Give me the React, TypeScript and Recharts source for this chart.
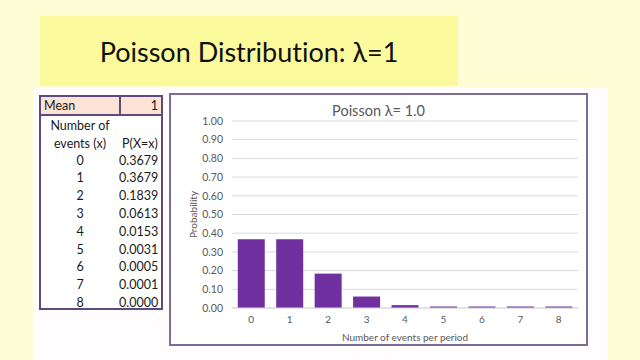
import { BarChart, Bar, CartesianGrid, XAxis, YAxis } from "recharts";

const events = ["0", "1", "2", "3", "4", "5", "6", "7", "8"];
const probabilities = [0.3679, 0.3679, 0.1839, 0.0613, 0.0153, 0.0031, 0.0005, 0.0001, 0.0];
const probabilityLabels = ["0.3679", "0.3679", "0.1839", "0.0613", "0.0153", "0.0031", "0.0005", "0.0001", "0.0000"];
const yTicks = [0, 0.1, 0.2, 0.3, 0.4, 0.5, 0.6, 0.7, 0.8, 0.9, 1.0];
const meanValue = "1";

const chartData = events.map((name, i) => ({ name, p: probabilities[i] }));

const FONT = "Lato, 'Open Sans', sans-serif";
const GRAY = "#595959";

function PoissonTable() {
  const rowH = 17.8;
  const cell = (top: number, text: string, left: number, width: number, align: "center" | "right") => (
    <div
      key={`${top}-${left}-${text}`}
      style={{
        position: "absolute",
        top,
        left,
        width,
        height: rowH,
        lineHeight: `${rowH}px`,
        textAlign: align,
        paddingRight: align === "right" ? 3 : 0,
        boxSizing: "border-box",
      }}
    >
      {text}
    </div>
  );
  return (
    <div
      style={{
        position: "absolute",
        left: 39,
        top: 95,
        width: 124,
        height: 215,
        border: "2px solid #5f4a7e",
        boxSizing: "border-box",
        fontFamily: FONT,
        fontSize: 12.5,
        color: "#1a1a1a",
        background: "#ffffff",
      }}
    >
      <div
        style={{
          position: "absolute",
          left: 0,
          top: 0,
          width: 120,
          height: 17,
          background: "#fbe3d6",
          borderBottom: "2px solid #5f4a7e",
        }}
      >
        <div style={{ position: "absolute", left: 3, top: 0, lineHeight: "17px" }}>Mean</div>
        <div style={{ position: "absolute", left: 78, top: 0, width: 2, height: 17, background: "#5f4a7e" }} />
        <div style={{ position: "absolute", right: 3, top: 0, lineHeight: "17px" }}>{meanValue}</div>
      </div>
      {cell(20, "Number of", 0, 78, "center")}
      {cell(20 + rowH, "events (x)", 0, 78, "center")}
      {cell(20 + rowH, "P(X=x)", 78, 42, "center")}
      {events.map((e, i) => cell(19 + rowH * (i + 2), e, 0, 78, "center"))}
      {probabilityLabels.map((p, i) => cell(19 + rowH * (i + 2), p, 78, 42, "right"))}
    </div>
  );
}

export default function App() {
  return (
    <div
      style={{
        position: "fixed",
        left: 0,
        top: 0,
        width: 640,
        height: 360,
        background: "#fefdd6",
        overflow: "hidden",
        fontFamily: FONT,
        fontVariantLigatures: "none",
      }}
    >
      <div
        style={{
          position: "absolute",
          left: 40,
          top: 16,
          width: 418,
          height: 70,
          background: "#fbfa9d",
          display: "flex",
          alignItems: "center",
          justifyContent: "center",
          fontSize: 27,
          color: "#111111",
        }}
      >
        Poisson Distribution: λ=1
      </div>
      <div
        style={{
          position: "absolute",
          left: 33,
          top: 88,
          width: 575,
          height: 272,
          background: "#fffdfd",
        }}
      />
      <PoissonTable />
      <div
        style={{
          position: "absolute",
          left: 169,
          top: 93,
          width: 419,
          height: 253,
          border: "2px solid #7d6b98",
          boxSizing: "border-box",
          background: "#ffffff",
        }}
      >
        <div
          style={{
            position: "absolute",
            left: 0,
            top: 7,
            width: "100%",
            textAlign: "center",
            fontSize: 14.5,
            color: GRAY,
          }}
        >
          Poisson λ= 1.0
        </div>
        <BarChart
          width={415}
          height={249}
          data={chartData}
          margin={{ top: 26, right: 8, left: 0, bottom: 0 }}
          barCategoryGap="15%"
        >
          <CartesianGrid vertical={false} stroke="#d9d9d9" />
          <XAxis
            dataKey="name"
            height={36}
            tickLine={false}
            axisLine={{ stroke: "#d9d9d9" }}
            tick={{ fill: GRAY, fontSize: 10 }}
            label={{ value: "Number of events per period", position: "insideBottom", offset: 3, fill: GRAY, fontSize: 10 }}
          />
          <YAxis
            width={61}
            domain={[0, 1]}
            ticks={yTicks}
            interval={0}
            tickLine={false}
            axisLine={false}
            tickMargin={3}
            tick={{ fill: GRAY, fontSize: 10.5 }}
            tickFormatter={(v: number) => v.toFixed(2)}
            label={{
              value: "Probability",
              angle: -90,
              position: "insideLeft",
              offset: 22,
              fill: GRAY,
              fontSize: 10,
              style: { textAnchor: "middle" },
            }}
          />
          <Bar dataKey="p" fill="#7030a0" minPointSize={1.5} isAnimationActive={false} />
        </BarChart>
      </div>
    </div>
  );
}
